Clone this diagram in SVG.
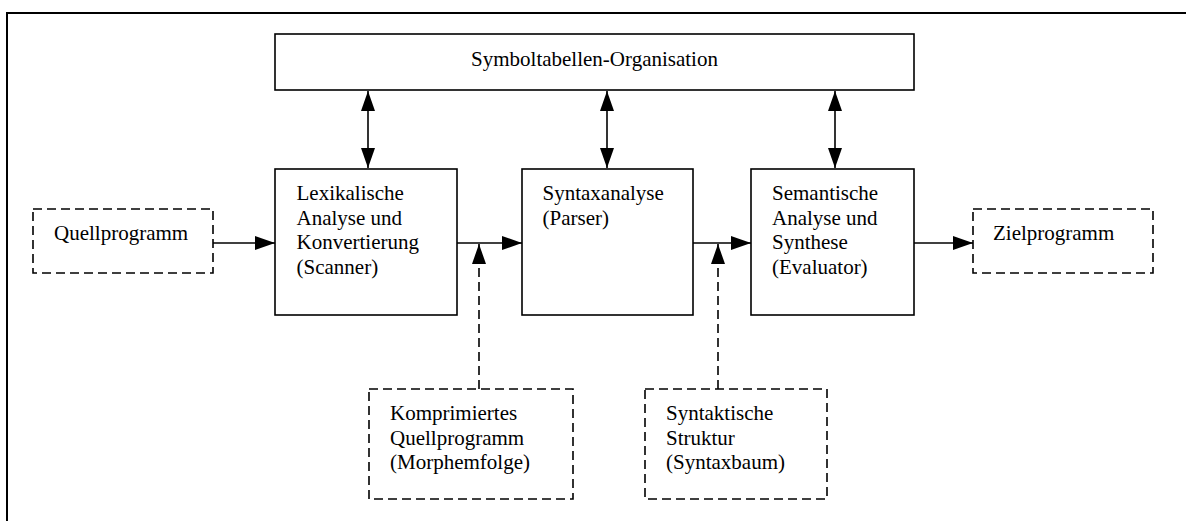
<svg xmlns="http://www.w3.org/2000/svg" width="1186" height="521" viewBox="0 0 1186 521">
  <style>
    .frame { fill: none; stroke: #000; stroke-width: 2; }
    .box { fill: #fff; stroke: #000; stroke-width: 1.6; }
    .dbox { fill: #fff; stroke: #000; stroke-width: 1.6; stroke-dasharray: 9 5; }
    .conn { fill: none; stroke: #000; stroke-width: 1.6; }
    .dconn { fill: none; stroke: #000; stroke-width: 1.6; stroke-dasharray: 9 5; }
    text { font-family: "Liberation Serif", "Times New Roman", serif; font-size: 21px; fill: #000; }
  </style>
  <defs>
    <marker id="ah" viewBox="0 0 20 14" refX="20" refY="7" markerWidth="20" markerHeight="14" markerUnits="userSpaceOnUse" orient="auto-start-reverse">
      <path d="M0,0 L20,7 L0,14 Z" fill="#000" stroke="none"/>
    </marker>
  </defs>
  <rect width="1186" height="521" fill="#fff"/>
  <path class="frame" d="M7,521 L7,13 L1186,13"/>

  <g id="connectors">
    <line class="conn" x1="368" y1="91" x2="368" y2="168" marker-start="url(#ah)" marker-end="url(#ah)"/>
    <line class="conn" x1="607" y1="91" x2="607" y2="168" marker-start="url(#ah)" marker-end="url(#ah)"/>
    <line class="conn" x1="835" y1="91" x2="835" y2="168" marker-start="url(#ah)" marker-end="url(#ah)"/>
    <line class="conn" x1="213" y1="243" x2="275" y2="243" marker-end="url(#ah)"/>
    <line class="conn" x1="457" y1="243" x2="522" y2="243" marker-end="url(#ah)"/>
    <line class="conn" x1="693" y1="243" x2="751" y2="243" marker-end="url(#ah)"/>
    <line class="conn" x1="914" y1="243" x2="973" y2="243" marker-end="url(#ah)"/>
    <line class="dconn" x1="479" y1="389" x2="479" y2="244" marker-end="url(#ah)"/>
    <line class="dconn" x1="718" y1="389" x2="718" y2="244" marker-end="url(#ah)"/>
  </g>

  <g id="symboltabelle">
    <rect class="box" x="275" y="34" width="639" height="56"/>
    <text x="594.5" y="66" text-anchor="middle">Symboltabellen-Organisation</text>
  </g>

  <g id="quellprogramm">
    <rect class="dbox" x="33" y="209" width="180" height="64"/>
    <text x="54" y="240">Quellprogramm</text>
  </g>

  <g id="scanner">
    <rect class="box" x="275" y="169" width="182" height="146"/>
    <text x="296.5" y="200">Lexikalische</text>
    <text x="296.5" y="224.5">Analyse und</text>
    <text x="296.5" y="249">Konvertierung</text>
    <text x="296.5" y="273.5">(Scanner)</text>
  </g>

  <g id="parser">
    <rect class="box" x="522" y="169" width="171" height="146"/>
    <text x="542.5" y="200">Syntaxanalyse</text>
    <text x="542.5" y="224.5">(Parser)</text>
  </g>

  <g id="evaluator">
    <rect class="box" x="751" y="169" width="163" height="146"/>
    <text x="772" y="200">Semantische</text>
    <text x="772" y="224.5">Analyse und</text>
    <text x="772" y="249">Synthese</text>
    <text x="772" y="273.5">(Evaluator)</text>
  </g>

  <g id="zielprogramm">
    <rect class="dbox" x="973" y="209" width="180" height="64"/>
    <text x="993" y="240">Zielprogramm</text>
  </g>

  <g id="morphemfolge">
    <rect class="dbox" x="369" y="389" width="204" height="110"/>
    <text x="390" y="420">Komprimiertes</text>
    <text x="390" y="444.5">Quellprogramm</text>
    <text x="390" y="469">(Morphemfolge)</text>
  </g>

  <g id="syntaxbaum">
    <rect class="dbox" x="645" y="389" width="182" height="110"/>
    <text x="666" y="420">Syntaktische</text>
    <text x="666" y="444.5">Struktur</text>
    <text x="666" y="469">(Syntaxbaum)</text>
  </g>
</svg>
